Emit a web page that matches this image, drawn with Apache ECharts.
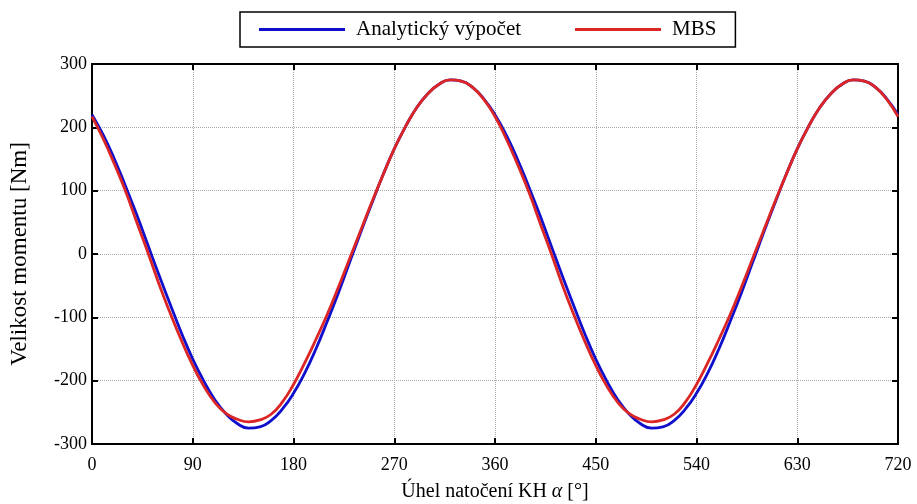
<!DOCTYPE html>
<html>
<head>
<meta charset="utf-8">
<script src="https://cdn.jsdelivr.net/npm/echarts@6/dist/echarts.min.js"></script>
<style>
  html, body { margin: 0; padding: 0; background: #fff; }
  #chart { width: 917px; height: 504px; }
</style>
</head>
<body>
<div id="chart"></div>
<script>
// Rotation angle of the crank [deg], sampled every 10 deg
const angles = [
  0, 10, 20, 30, 40, 50, 60, 70, 80, 90, 100, 110, 120, 130, 140, 150, 160, 170,
  180, 190, 200, 210, 220, 230, 240, 250, 260, 270, 280, 290, 300, 310, 320, 330, 340, 350,
  360, 370, 380, 390, 400, 410, 420, 430, 440, 450, 460, 470, 480, 490, 500, 510, 520, 530,
  540, 550, 560, 570, 580, 590, 600, 610, 620, 630, 640, 650, 660, 670, 680, 690, 700, 710, 720
];

// Torque from the analytical calculation [Nm]
const analytic = [
  220, 188, 150, 107, 62, 14, -34, -80, -125, -166, -201, -231, -253, -268, -275, -273, -263, -245,
  -220, -188, -150, -107, -62, -14, 34, 80, 125, 166, 201, 231, 253, 268, 275, 273, 263, 245,
  220, 188, 150, 107, 62, 14, -34, -80, -125, -166, -201, -231, -253, -268, -275, -273, -263, -245,
  -220, -188, -150, -107, -62, -14, 34, 80, 125, 166, 201, 231, 253, 268, 275, 273, 263, 245,
  220
];

// Torque from the multibody simulation [Nm]
const mbs = [
  217, 182, 142, 99, 50, 2, -48, -94, -137, -176, -209, -235, -252, -261, -265, -262, -253, -234,
  -206, -172, -135, -96, -53, -8, 37, 82, 125, 166, 201, 231, 253, 268, 275, 273, 263, 244,
  217, 182, 142, 99, 50, 2, -48, -94, -137, -176, -209, -235, -252, -261, -265, -262, -253, -234,
  -206, -172, -135, -96, -53, -8, 37, 82, 125, 166, 201, 231, 253, 268, 275, 273, 263, 244,
  217
];

const xTicks = [0, 90, 180, 270, 360, 450, 540, 630, 720];
const yTicks = [-300, -200, -100, 0, 100, 200, 300];

const FONT = '"Liberation Serif", "DejaVu Serif", serif';

const pairs = (vals) => angles.map((a, i) => [a, vals[i]]);

const chart = echarts.init(document.getElementById('chart'), null, { renderer: 'canvas' });

const axisLineStyle = { show: true, onZero: false, lineStyle: { color: '#000', width: 2 } };
const tickStyle = { show: true, inside: true, length: 6, lineStyle: { color: '#000', width: 2 } };
const gridLine = { show: true, lineStyle: { color: '#a8a8a8', width: 1, type: [1, 1] } };

chart.setOption({
  animation: false,
  backgroundColor: '#fff',
  grid: { left: 92, right: 19, top: 64, bottom: 60, containLabel: false, outerBoundsMode: 'none' },
  legend: {
    left: 240,
    top: 12,
    padding: [7, 19, 7, 19],
    borderColor: '#000',
    borderWidth: 1.5,
    itemGap: 54,
    itemWidth: 86,
    itemHeight: 3,
    icon: 'rect',
    textStyle: { fontFamily: FONT, fontSize: 21, color: '#000', padding: [0, 0, 0, 6] },
    data: ['Analytický výpočet', 'MBS']
  },
  xAxis: [
    {
      type: 'value',
      min: xTicks[0],
      max: xTicks[xTicks.length - 1],
      interval: 90,
      position: 'bottom',
      axisLine: axisLineStyle,
      axisTick: tickStyle,
      splitLine: gridLine,
      axisLabel: { fontFamily: FONT, fontSize: 18, color: '#000', margin: 12 },
      name: 'Úhel natočení KH {a|α} [°]',
      nameLocation: 'middle',
      nameGap: 38,
      nameTextStyle: {
        fontFamily: FONT, fontSize: 20, color: '#000',
        rich: { a: { fontFamily: FONT, fontSize: 20, fontStyle: 'italic', color: '#000' } }
      }
    },
    {
      type: 'value',
      min: xTicks[0],
      max: xTicks[xTicks.length - 1],
      interval: 90,
      position: 'top',
      axisLine: axisLineStyle,
      axisTick: tickStyle,
      splitLine: { show: false },
      axisLabel: { show: false }
    }
  ],
  yAxis: [
    {
      type: 'value',
      min: yTicks[0],
      max: yTicks[yTicks.length - 1],
      interval: 100,
      position: 'left',
      axisLine: axisLineStyle,
      axisTick: tickStyle,
      splitLine: gridLine,
      axisLabel: { fontFamily: FONT, fontSize: 18, color: '#000', margin: 5 },
      name: 'Velikost momentu [Nm]',
      nameLocation: 'middle',
      nameGap: 61,
      nameTextStyle: { fontFamily: FONT, fontSize: 23, color: '#000' }
    },
    {
      type: 'value',
      min: yTicks[0],
      max: yTicks[yTicks.length - 1],
      interval: 100,
      position: 'right',
      axisLine: axisLineStyle,
      axisTick: tickStyle,
      splitLine: { show: false },
      axisLabel: { show: false }
    }
  ],
  series: [
    {
      name: 'Analytický výpočet',
      type: 'line',
      data: pairs(analytic),
      smooth: 0.5,
      showSymbol: false,
      lineStyle: { color: '#1010cc', width: 2.8 },
      itemStyle: { color: '#1010cc' },
      z: 3
    },
    {
      name: 'MBS',
      type: 'line',
      data: pairs(mbs),
      smooth: 0.5,
      showSymbol: false,
      lineStyle: { color: '#dc2626', width: 2.8 },
      itemStyle: { color: '#dc2626' },
      z: 4
    }
  ]
});
</script>
</body>
</html>
